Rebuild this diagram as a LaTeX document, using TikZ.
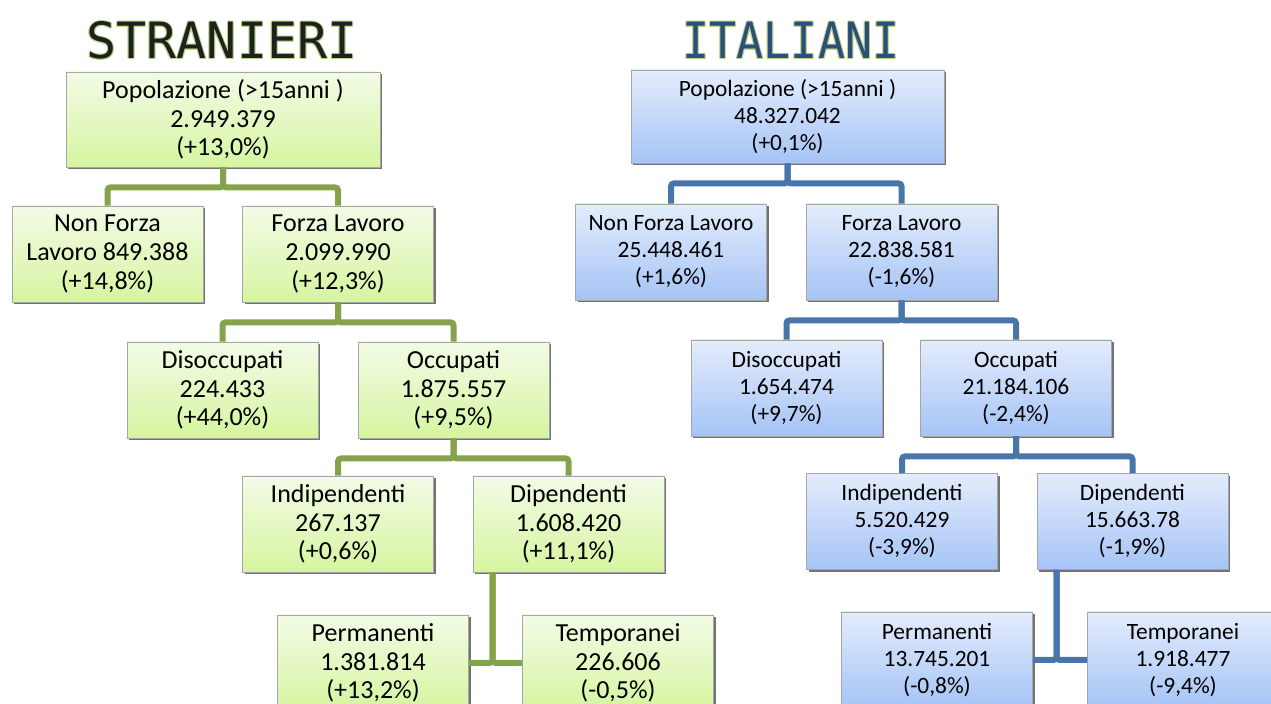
\documentclass[tikz,border=0pt]{standalone}
\usepackage{fontspec}
\setmainfont{Carlito}
\newfontfamily\titlefont{DejaVu Sans Mono}
\usepackage{tikz}
\usetikzlibrary{calc, shadows}
\definecolor{cGreenTop}{RGB}{243,251,230}
\definecolor{cGreenBot}{RGB}{214,245,160}
\definecolor{cGreenLine}{RGB}{133,163,75}
\definecolor{cBlueTop}{RGB}{228,236,252}
\definecolor{cBlueBot}{RGB}{165,196,246}
\definecolor{cBlueLine}{RGB}{72,117,170}
\definecolor{cHalo}{RGB}{190,214,140}
\definecolor{cTitleS}{RGB}{30,34,30}
\definecolor{cTitleI}{RGB}{44,78,122}

\tikzset{
  box/.style={rectangle, draw=black!35, align=center, minimum width=95.5pt, minimum height=48pt, inner sep=1pt,
    drop shadow={shadow xshift=1pt, shadow yshift=-1.2pt, fill=black!55, opacity=1}},
  gbox/.style={box, top color=cGreenTop, bottom color=cGreenBot, font=\fontsize{13}{14.3}\selectfont},
  bbox/.style={box, top color=cBlueTop, bottom color=cBlueBot, font=\fontsize{11.7}{13.5}\selectfont},
  gline/.style={draw=cGreenLine, line width=3pt, rounded corners=1.5pt},
  bline/.style={draw=cBlueLine, line width=3pt, rounded corners=1.5pt},
  ttl/.style={font=\titlefont\fontsize{25}{25}\selectfont, inner sep=0pt}
}

\begin{document}
\begin{tikzpicture}[x=0.5pt, y=-0.5pt]
\useasboundingbox (0,0) rectangle (1271,704);
\clip (0,0) rectangle (1271,704);

\foreach \dx/\dy in {-1/0, 1/0, 0/-1, 0/1.5, 1/1.5, -1/1.5}{
  \node[ttl, text=cHalo] at ($(222,40)+(\dx,\dy)$) {STRANIERI};
  \node[ttl, text=cHalo] at ($(791,40)+(\dx,\dy)$) {\scalebox{0.9}[1]{ITALIANI}};
}
\node[ttl, text=cTitleS] (stitle) at (222,40) {STRANIERI};
\node[ttl, text=cTitleI] (ititle) at (791,40) {\scalebox{0.9}[1]{ITALIANI}};

\node[gbox, minimum width=157pt, minimum height=47.5pt] (spop) at (223,119.5) {Popolazione (>15anni )\\2.949.379\\(+13,0\%)};
\node[gbox] (snfl) at (107.5,254) {Non Forza\\Lavoro 849.388\\(+14,8\%)};
\node[gbox] (sfl) at (338,254) {Forza Lavoro\\2.099.990\\(+12,3\%)};
\node[gbox] (sdis) at (222.5,390) {Disoccupati\\224.433\\(+44,0\%)};
\node[gbox] (socc) at (453.5,390) {Occupati\\1.875.557\\(+9,5\%)};
\node[gbox] (sind) at (338,524) {Indipendenti\\267.137\\(+0,6\%)};
\node[gbox] (sdip) at (568.5,524) {Dipendenti\\1.608.420\\(+11,1\%)};
\node[gbox] (sperm) at (373,663) {Permanenti\\1.381.814\\(+13,2\%)};
\node[gbox] (stemp) at (618,663) {Temporanei\\226.606\\(-0,5\%)};

\foreach \a/\b in {spop/snfl, spop/sfl, sfl/sdis, sfl/socc, socc/sind, socc/sdip}
  \draw[gline] (\a.south) -- ++(0,20) -| (\b.north);
\coordinate (sdipx) at ($(sdip.south west)+(20,0)$);
\draw[gline] (sdipx) |- (sperm.east);
\draw[gline] (sdipx) |- (stemp.west);

\node[bbox, minimum width=156.5pt, minimum height=46.5pt] (ipop) at (787.5,116.5) {Popolazione (>15anni )\\48.327.042\\(+0,1\%)};
\node[bbox] (infl) at (671,252) {Non Forza Lavoro\\25.448.461\\(+1,6\%)};
\node[bbox] (ifl) at (901.5,252) {Forza Lavoro\\22.838.581\\(-1,6\%)};
\node[bbox] (idis) at (786.5,388) {Disoccupati\\1.654.474\\(+9,7\%)};
\node[bbox] (iocc) at (1016,388) {Occupati\\21.184.106\\(-2,4\%)};
\node[bbox] (iind) at (902,521.5) {Indipendenti\\5.520.429\\(-3,9\%)};
\node[bbox] (idip) at (1132.5,521.5) {Dipendenti\\15.663.78\\(-1,9\%)};
\node[bbox] (iperm) at (937,660) {Permanenti\\13.745.201\\(-0,8\%)};
\node[bbox] (itemp) at (1183,660) {Temporanei\\1.918.477\\(-9,4\%)};

\foreach \a/\b in {ipop/infl, ipop/ifl, ifl/idis, ifl/iocc, iocc/iind, iocc/idip}
  \draw[bline] (\a.south) -- ++(0,20) -| (\b.north);
\coordinate (idipx) at ($(idip.south west)+(20,0)$);
\draw[bline] (idipx) |- (iperm.east);
\draw[bline] (idipx) |- (itemp.west);
\end{tikzpicture}
\end{document}
